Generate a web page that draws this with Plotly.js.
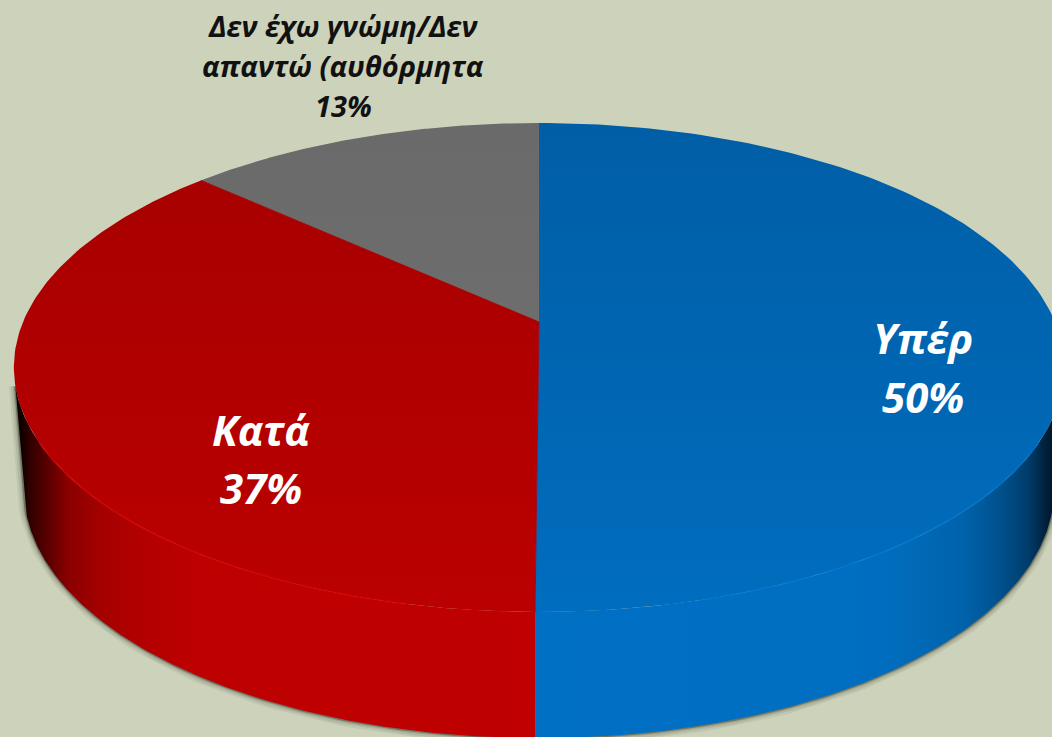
<!DOCTYPE html>
<html><head><meta charset="utf-8">
<script src="https://cdn.plot.ly/plotly-3.0.1.min.js"></script>
<style>html,body{margin:0;padding:0;background:#cdd2bb}</style></head>
<body><div id="chart" style="width:1052px;height:737px"></div>
<script>
const categories = ["Υπέρ", "Κατά", "Δεν έχω γνώμη/Δεν<br>απαντώ (αυθόρμητα"];
const values = [50.1, 36.7, 13.2];
const labelColors = ["#ffffff", "#ffffff", "#111111"];
const labelSizes = [42, 42, 29];
const labelX = [923, 261, 343];
const labelTop = [337, 429, 25];
const labelPitch = [59, 58, 40];
const topRamps = [["#005ea6", "#006dbe"], ["#a60000", "#bb0000"], ["#6a6a6a", "#727272"]];

const W = 1052, H = 737, CX = 539, K = -0.186, STEPS = 160;
const topRing = {a: 516, b: 236, y0: 322};
const baseRing = {a: 506, b: 239.4, y0: 444};
function ringPoint(r, deg) {
  const t = deg * Math.PI / 180, u = Math.sin(t), v = -Math.cos(t), w = 1 + K * v;
  return [CX + r.a * u / w, r.y0 + r.b * v / w];
}
function arc(r, from, to) {
  const xs = [], ys = [];
  for (let i = 0; i <= STEPS; i++) {
    const p = ringPoint(r, from + (to - from) * i / STEPS);
    xs.push(p[0]); ys.push(p[1]);
  }
  return [xs, ys];
}
const total = values.reduce((a, b) => a + b, 0);
const edges = [0];
values.forEach(v => edges.push(edges[edges.length - 1] + v / total * 360));

const traces = [];
function add(t) { traces.push(Object.assign({type: "scatter", mode: "lines", hoverinfo: "skip", showlegend: false}, t)); }

// soft shadow under the base, running up the silhouette on both sides
[[13, 0.07], [9, 0.10], [5, 0.16], [2.5, 0.4]].forEach(s => {
  const a = arc(baseRing, 105, 255), p = ringPoint(topRing, 105), q = ringPoint(topRing, 255);
  add({x: [p[0]].concat(a[0], [q[0]]), y: [p[1]].concat(a[1], [q[1]]),
       line: {color: "rgba(45,50,35," + s[1] + ")", width: s[0]}});
});

// side walls
const wallSpans = [[105, edges[1]], [edges[1], 255]];
const wallRamps = [
  {start: 530, stop: 1056, colorscale: [[0, "#0070c4"], [0.6, "#006fc2"], [0.7, "#006cbc"], [0.82, "#0063ac"], [0.89, "#00528f"], [0.947, "#003d6b"], [1, "#00101f"]]},
  {start: 22, stop: 535, colorscale: [[0, "#100000"], [0.015, "#300000"], [0.055, "#600000"], [0.09, "#8a0000"], [0.15, "#a30000"], [0.21, "#b00000"], [0.33, "#bd0000"], [1, "#c00000"]]}
];
wallSpans.forEach((s, i) => {
  const a = arc(topRing, s[0], s[1]), b = arc(baseRing, s[1], s[0]);
  add({x: a[0].concat(b[0]), y: a[1].concat(b[1]), fill: "toself", line: {width: 0, color: "rgba(0,0,0,0)"},
       fillcolor: "#0070c4",
       fillgradient: Object.assign({type: "horizontal"}, wallRamps[i])});
});

// top faces
const centre = [CX, topRing.y0];
values.forEach((v, i) => {
  const a = arc(topRing, edges[i], edges[i + 1]);
  const xs = [centre[0]].concat(a[0], [centre[0]]), ys = [centre[1]].concat(a[1], [centre[1]]);
  add({x: xs, y: ys, fill: "toself", line: {width: 0, color: "rgba(0,0,0,0)"},
       fillcolor: topRamps[i][0],
       fillgradient: {type: "vertical", start: 123, stop: 612,
                      colorscale: [[0, topRamps[i][0]], [1, topRamps[i][1]]]}});
});
// slice seams, drawn in the neighbouring face colour so no background shows through
[[edges[2], "#a80000"], [edges[1], "#8a1030"]].forEach(e => {
  const p = ringPoint(topRing, e[0]);
  add({x: [centre[0], p[0]], y: [centre[1], p[1]], line: {color: e[1], width: 1}});
});

// rim highlight
[[118, 165, "rgba(0,118,210,0.55)"], [edges[1] + 12, 242, "rgba(215,0,0,0.55)"]].forEach(r => {
  const a = arc(topRing, r[0], r[1]);
  add({x: a[0], y: a[1], line: {color: r[2], width: 2}});
});

const annotations = [];
categories.forEach((c, i) => {
  const lines = c.split("<br>").concat([Math.round(values[i]) + "%"]);
  lines.forEach((t, j) => annotations.push({
    x: labelX[i], y: labelTop[i] + j * labelPitch[i], xref: "x", yref: "y", showarrow: false, align: "center",
    text: "<b><i>" + t + "</i></b>",
    font: {family: "'Open Sans', sans-serif", size: labelSizes[i], color: labelColors[i]}
  }));
});

Plotly.newPlot("chart", traces, {
  width: W, height: H, margin: {l: 0, r: 0, t: 0, b: 0},
  paper_bgcolor: "#cdd2bb", plot_bgcolor: "#cdd2bb", showlegend: false,
  xaxis: {range: [0, W], visible: false, fixedrange: true},
  yaxis: {range: [H, 0], visible: false, fixedrange: true},
  annotations: annotations
}, {displayModeBar: false, staticPlot: true});
</script></body></html>
